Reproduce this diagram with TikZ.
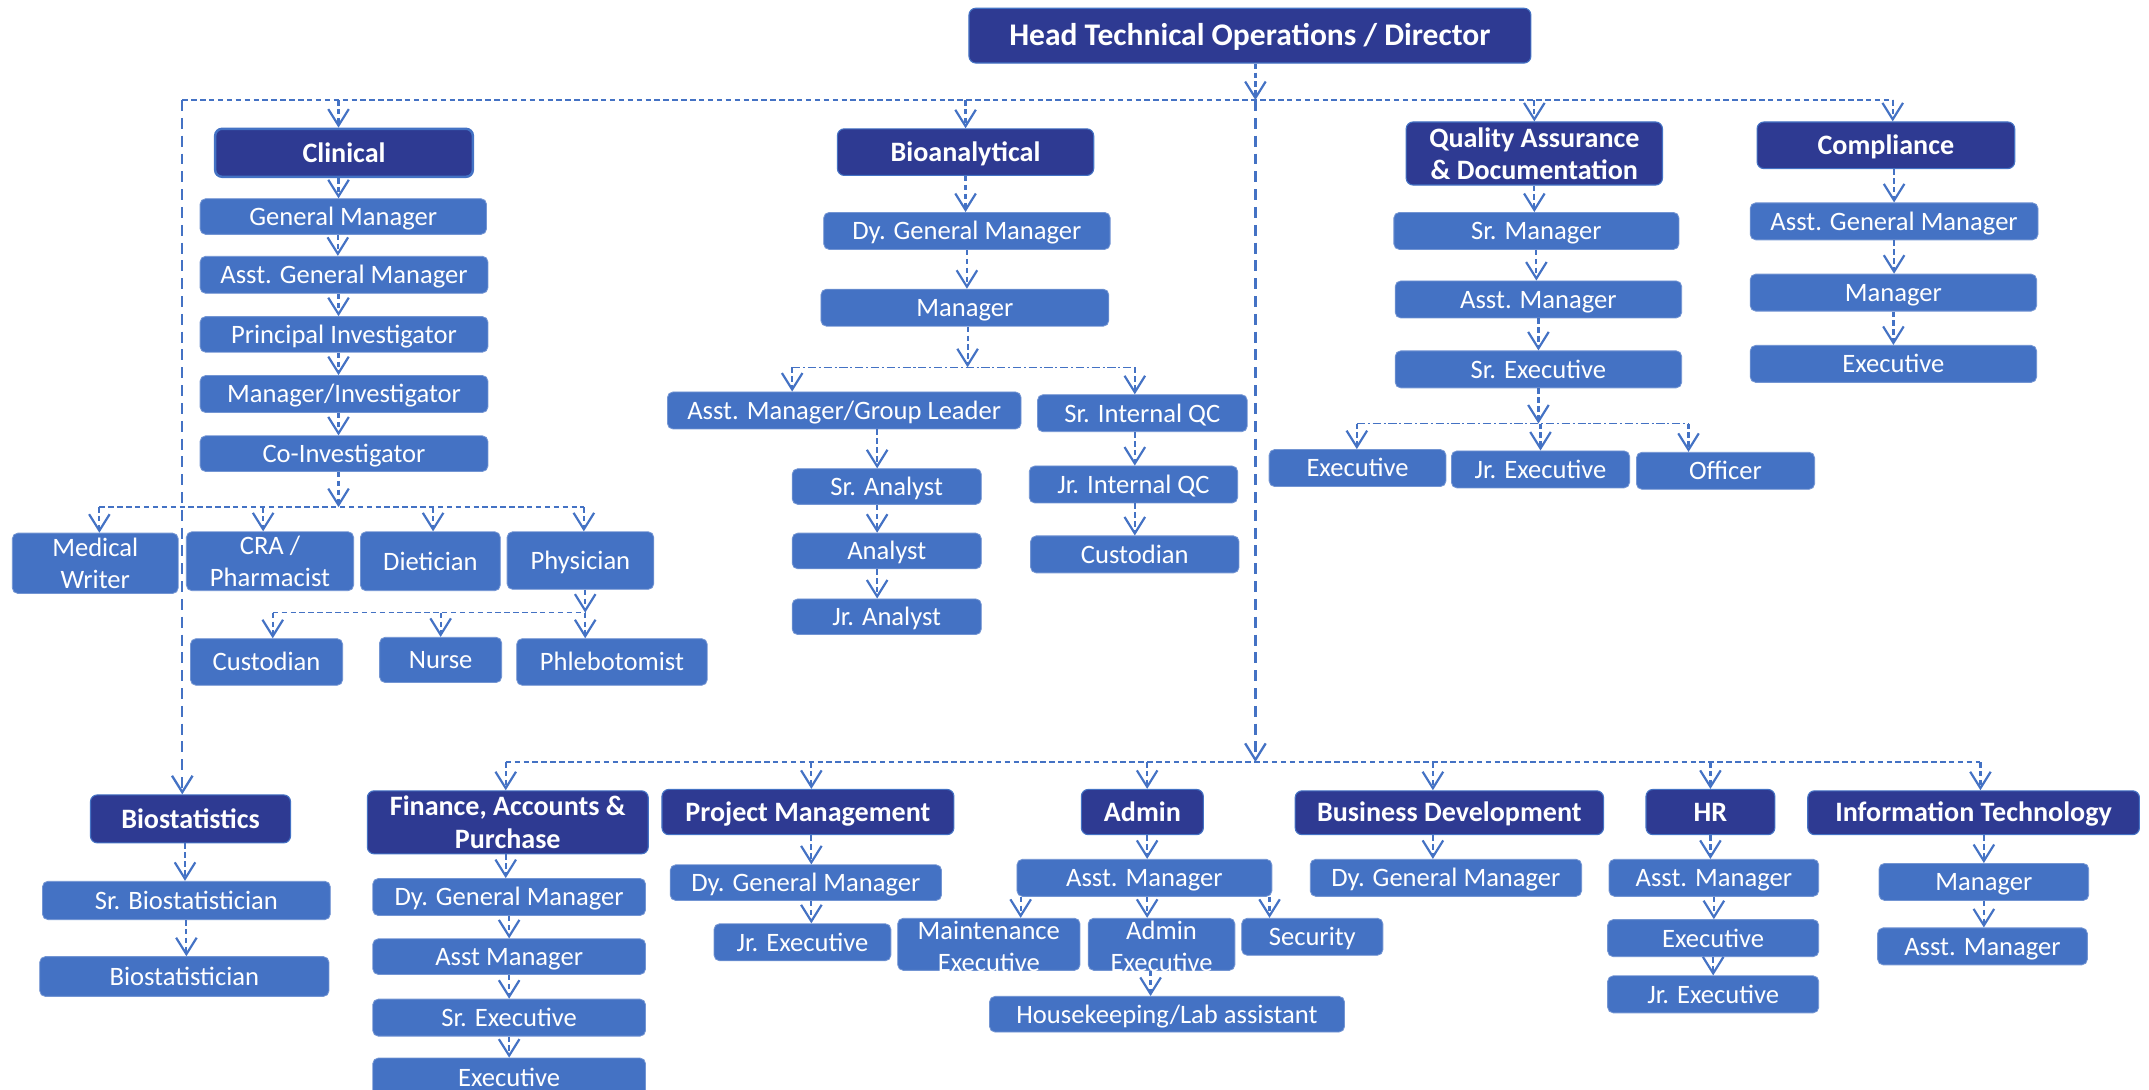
\documentclass[tikz,border=0pt]{standalone}
\usepackage{fontspec}
\setmainfont{Carlito}
\usetikzlibrary{arrows.meta}
\definecolor{dkb}{RGB}{46,58,146}
\definecolor{ltb}{RGB}{68,114,196}
\definecolor{lnb}{RGB}{68,114,196}
\tikzset{
  box/.style={rectangle, rounded corners=4pt, fill=ltb, draw=ltb!75!white, line width=0.6pt, text=white, inner sep=0pt, text height=13pt, text depth=0pt, font=\fontsize{19.4}{23}\selectfont},
  head/.style={rectangle, rounded corners=5pt, fill=dkb, draw=ltb, line width=0.8pt, text=white, inner sep=0pt, text height=13.5pt, text depth=0pt, font=\bfseries\fontsize{20.5}{24}\selectfont},
  txt/.style={text=white, inner sep=0pt, align=center, font=\fontsize{19.4}{23}\selectfont},
  htxt/.style={text=white, inner sep=0pt, align=center, font=\bfseries\fontsize{20.5}{23.5}\selectfont},
  conn/.style={draw=lnb, line width=1.6pt, dash pattern=on 4pt off 2.5pt, -{Straight Barb[length=12pt,width=15pt]}},
  bus/.style={draw=lnb, line width=1.1pt, dash pattern=on 4pt off 2.5pt},
  busdd/.style={draw=lnb, line width=1.1pt, dash pattern=on 6pt off 2pt on 1.5pt off 2pt},
  longc/.style={draw=lnb, line width=1.7pt, dash pattern=on 8pt off 5pt, -{Straight Barb[length=12pt,width=15pt]}}
}
\begin{document}
\begin{tikzpicture}[x=1pt,y=-1pt]
\useasboundingbox (0,0) rectangle (1568,794.6);

% ---------- title ----------
\node[head, minimum width=410pt, minimum height=40pt, text height=15pt, font=\bfseries\fontsize{23}{26}\selectfont] (title) at (912,26) {Head Technical Operations / Director};

% ---------- Clinical ----------
\node[head, minimum width=188pt, minimum height=35pt, line width=1.8pt] (clin) at (251,111.5) {Clinical};
\node[box, minimum width=209pt, minimum height=26pt] (cgm) at (250.5,158) {General Manager};
\node[box, minimum width=210pt, minimum height=27pt] (cagm) at (251,200.5) {Asst. General Manager};
\node[box, minimum width=210pt, minimum height=26pt] (cpi) at (251,244) {Principal Investigator};
\node[box, minimum width=210pt, minimum height=27pt] (cmi) at (251,287.5) {Manager/Investigator};
\node[box, minimum width=210pt, minimum height=26pt] (cci) at (251,331) {Co-Investigator};
\node[box, minimum width=121pt, minimum height=44pt] (mw) at (69.5,411) {};
\node[txt] (mwT) at (mw) {Medical\\Writer};
\node[box, minimum width=122pt, minimum height=43pt] (cra) at (197,409.5) {};
\node[txt] (craT) at (cra) {CRA /\\Pharmacist};
\node[box, minimum width=102pt, minimum height=43pt] (diet) at (314,409.5) {Dietician};
\node[box, minimum width=107pt, minimum height=42pt] (phys) at (423.5,409) {Physician};
\node[box, minimum width=111pt, minimum height=34pt] (ccus) at (194.5,483) {Custodian};
\node[box, minimum width=89pt, minimum height=33pt] (nurse) at (321.5,481.5) {Nurse};
\node[box, minimum width=139pt, minimum height=34pt] (phleb) at (446.5,483) {Phlebotomist};

% ---------- Bioanalytical ----------
\node[head, minimum width=187pt, minimum height=34pt] (bio) at (704.5,111) {Bioanalytical};
\node[box, minimum width=209pt, minimum height=27pt] (bdgm) at (705.5,168.5) {Dy. General Manager};
\node[box, minimum width=210pt, minimum height=27pt] (bman) at (704,224.5) {Manager};
\node[box, minimum width=258pt, minimum height=27pt] (bam) at (616,299.5) {Asst. Manager/Group Leader};
\node[box, minimum width=153pt, minimum height=27pt] (bsiqc) at (833.5,301.5) {Sr. Internal QC};
\node[box, minimum width=138pt, minimum height=26pt] (bsa) at (647,355) {Sr. Analyst};
\node[box, minimum width=138pt, minimum height=26pt] (ban) at (647,402) {Analyst};
\node[box, minimum width=138pt, minimum height=26pt] (bja) at (647,450) {Jr. Analyst};
\node[box, minimum width=152pt, minimum height=27pt] (bjiqc) at (827,353.5) {Jr. Internal QC};
\node[box, minimum width=152pt, minimum height=27pt] (bcus) at (828,404.5) {Custodian};

% ---------- QA ----------
\node[head, minimum width=187pt, minimum height=46pt] (qa) at (1119.5,112) {};
\node[htxt] (qaT) at (qa) {Quality Assurance\\\& Documentation};
\node[box, minimum width=208pt, minimum height=27pt] (qsm) at (1121,168.5) {Sr. Manager};
\node[box, minimum width=209pt, minimum height=27pt] (qam) at (1122.5,218.5) {Asst. Manager};
\node[box, minimum width=209pt, minimum height=27pt] (qse) at (1122.5,269.5) {Sr. Executive};
\node[box, minimum width=129pt, minimum height=27pt] (qex) at (990.5,341.5) {Executive};
\node[box, minimum width=130pt, minimum height=27pt] (qjex) at (1124,342.5) {Jr. Executive};
\node[box, minimum width=130pt, minimum height=27pt] (qoff) at (1259,343.5) {Officer};

% ---------- Compliance ----------
\node[head, minimum width=188pt, minimum height=34pt] (comp) at (1376,106) {Compliance};
\node[box, minimum width=210pt, minimum height=27pt] (kagm) at (1382,161.5) {Asst. General Manager};
\node[box, minimum width=209pt, minimum height=27pt] (kman) at (1381.5,213.5) {Manager};
\node[box, minimum width=209pt, minimum height=27pt] (kex) at (1381.5,265.5) {Executive};

% ---------- Biostatistics ----------
\node[head, minimum width=146pt, minimum height=35pt] (biost) at (139,597.5) {Biostatistics};
\node[box, minimum width=210pt, minimum height=28pt] (sbs) at (136,657) {Sr. Biostatistician};
\node[box, minimum width=211pt, minimum height=29pt] (bs) at (134.5,712.5) {Biostatistician};

% ---------- Finance ----------
\node[head, minimum width=205pt, minimum height=46pt] (fin) at (370.5,600) {};
\node[htxt] (finT) at (fin) {Finance, Accounts \&\\Purchase};
\node[box, minimum width=199pt, minimum height=27pt] (fdgm) at (371.5,654.5) {Dy. General Manager};
\node[box, minimum width=199pt, minimum height=26pt] (fam) at (371.5,698) {Asst Manager};
\node[box, minimum width=199pt, minimum height=27pt] (fse) at (371.5,742.5) {Sr. Executive};
\node[box, minimum width=199pt, minimum height=28pt] (fex) at (371.5,786) {Executive};

% ---------- Project Management ----------
\node[head, minimum width=213pt, minimum height=33pt] (pm) at (589.5,592.5) {Project Management};
\node[box, minimum width=198pt, minimum height=26pt] (pdgm) at (588,644) {Dy. General Manager};
\node[box, minimum width=129pt, minimum height=27pt] (pjex) at (585.5,687.5) {Jr. Executive};

% ---------- Admin ----------
\node[head, minimum width=89pt, minimum height=33pt] (adm) at (833.5,592.5) {Admin};
\node[box, minimum width=186pt, minimum height=27pt] (aam) at (835,640.5) {Asst. Manager};
\node[box, minimum width=133pt, minimum height=38pt] (ame) at (721.5,689) {};
\node[txt] (ameT) at ([yshift=-1.5pt]ame.center) {Maintenance\\Executive};
\node[box, minimum width=107pt, minimum height=38pt] (aae) at (847.5,689) {};
\node[txt] (aaeT) at ([yshift=-1.5pt]aae.center) {Admin\\Executive};
\node[box, minimum width=103pt, minimum height=27pt] (asec) at (957.5,683.5) {Security};
\node[box, minimum width=259pt, minimum height=26pt] (ahk) at (851.5,740) {Housekeeping/Lab assistant};

% ---------- Business Development ----------
\node[head, minimum width=225pt, minimum height=32pt] (bd) at (1057.5,593) {Business Development};
\node[box, minimum width=198pt, minimum height=27pt] (bddgm) at (1055,640.5) {Dy. General Manager};

% ---------- HR ----------
\node[head, minimum width=94pt, minimum height=33pt] (hr) at (1248,592.5) {HR};
\node[box, minimum width=153pt, minimum height=27pt] (ham) at (1250.5,640.5) {Asst. Manager};
\node[box, minimum width=154pt, minimum height=27pt] (hex) at (1250,684.5) {Executive};
\node[box, minimum width=154pt, minimum height=27pt] (hjex) at (1250,725.5) {Jr. Executive};

% ---------- IT ----------
\node[head, minimum width=242pt, minimum height=32pt] (it) at (1440,593) {Information Technology};
\node[box, minimum width=153pt, minimum height=27pt] (iman) at (1447.5,643.5) {Manager};
\node[box, minimum width=153pt, minimum height=27pt] (iam) at (1446.5,690.5) {Asst. Manager};

% ---------- bus coordinates ----------
\coordinate (tb) at (916,73);
\coordinate (tbL) at (133,73);
\coordinate (tbR) at (1381,73);
\coordinate (lb) at (916,556);
\coordinate (lbL) at (369,556);
\coordinate (lbR) at (1445,556);
\coordinate (cb) at (251,370);
\coordinate (pb) at (427,447);
\coordinate (bbL) at (578,268);
\coordinate (bbR) at (828,268);
\coordinate (qbL) at (990,309);
\coordinate (qbR) at (1232,309);

% ---------- top level ----------
\draw[conn] (title.south -| tb) -- (tb);
\draw[bus] (tbL) -- (tbR);
\draw[longc] (tbL) -- (tbL |- biost.north);
\draw[longc] (tb) -- (lb);
\draw[conn] ([xshift=-4pt]clin.north |- tb) -- ([xshift=-4pt]clin.north);
\draw[conn] (bio.north |- tb) -- (bio.north);
\draw[conn] (qa.north |- tb) -- (qa.north);
\draw[conn] (tbR) -- (tbR |- comp.north);

% ---------- Clinical ----------
\draw[conn] ([xshift=-4pt]clin.south) -- ([xshift=-4pt]clin.south |- cgm.north);
\draw[conn] ([xshift=-4pt]cgm.south) -- ([xshift=-4pt]cgm.south |- cagm.north);
\draw[conn] ([xshift=-4pt]cagm.south) -- ([xshift=-4pt]cagm.south |- cpi.north);
\draw[conn] ([xshift=-4pt]cpi.south) -- ([xshift=-4pt]cpi.south |- cmi.north);
\draw[conn] ([xshift=-4pt]cmi.south) -- ([xshift=-4pt]cmi.south |- cci.north);
\draw[conn] ([xshift=-4pt]cci.south) -- ([xshift=-4pt]cci.south |- cb);
\draw[bus] ([xshift=3pt]mw.north |- cb) -- ([xshift=2.5pt]phys.north |- cb);
\draw[conn] ([xshift=3pt]mw.north |- cb) -- ([xshift=3pt]mw.north);
\draw[conn] ([xshift=-5pt]cra.north |- cb) -- ([xshift=-5pt]cra.north);
\draw[conn] ([xshift=2pt]diet.north |- cb) -- ([xshift=2pt]diet.north);
\draw[conn] ([xshift=2.5pt]phys.north |- cb) -- ([xshift=2.5pt]phys.north);
\draw[conn] (phys.south -| pb) -- (pb);
\draw[bus] ([xshift=4.5pt]ccus.north |- pb) -- (pb);
\draw[conn] ([xshift=4.5pt]ccus.north |- pb) -- ([xshift=4.5pt]ccus.north);
\draw[conn] (nurse.north |- pb) -- (nurse.north);
\draw[conn] (pb) -- (pb |- phleb.north);

% ---------- Bioanalytical ----------
\draw[conn] (bio.south) -- (bio.south |- bdgm.north);
\draw[conn] (bdgm.south) -- (bdgm.south |- bman.north);
\draw[conn] ([xshift=2pt]bman.south) -- ([xshift=2pt]bman.south |- bbL);
\draw[busdd] (bbL) -- (bbR);
\draw[conn] (bbL) -- (bbL |- bam.north);
\draw[conn] (bbR) -- (bbR |- bsiqc.north);
\draw[conn] ([xshift=-7pt]bsa.north |- bam.south) -- ([xshift=-7pt]bsa.north);
\draw[conn] ([xshift=-7pt]bsa.south) -- ([xshift=-7pt]bsa.south |- ban.north);
\draw[conn] ([xshift=-7pt]ban.south) -- ([xshift=-7pt]ban.south |- bja.north);
\draw[conn] (bsiqc.south -| bbR) -- (bbR |- bjiqc.north);
\draw[conn] (bjiqc.south -| bbR) -- (bbR |- bcus.north);

% ---------- QA ----------
\draw[conn] (qa.south) -- (qa.south |- qsm.north);
\draw[conn] (qsm.south) -- (qsm.south |- qam.north);
\draw[conn] (qam.south) -- (qam.south |- qse.north);
\draw[conn] (qse.south) -- (qse.south |- qbL);
\draw[busdd] (qbL) -- (qbR);
\draw[conn] (qbL) -- (qbL |- qex.north);
\draw[conn] (qjex.north |- qbL) -- (qjex.north);
\draw[conn] (qbR) -- (qbR |- qoff.north);

% ---------- Compliance ----------
\draw[conn] (kagm.north |- comp.south) -- (kagm.north);
\draw[conn] (kagm.south) -- (kagm.south |- kman.north);
\draw[conn] (kman.south) -- (kman.south |- kex.north);

% ---------- Biostatistics ----------
\draw[conn] ([xshift=-4pt]biost.south) -- ([xshift=-4pt]biost.south |- sbs.north);
\draw[conn] (sbs.south) -- (sbs.south |- bs.north);

% ---------- lower bus ----------
\draw[bus] (lbL) -- (lbR);
\draw[conn] (lbL) -- (lbL |- fin.north);
\draw[conn] ([xshift=2.5pt]pm.north |- lb) -- ([xshift=2.5pt]pm.north);
\draw[conn] ([xshift=3.5pt]adm.north |- lb) -- ([xshift=3.5pt]adm.north);
\draw[conn] ([xshift=-12pt]bd.north |- lb) -- ([xshift=-12pt]bd.north);
\draw[conn] (hr.north |- lb) -- (hr.north);
\draw[conn] (lbR) -- (lbR |- it.north);

% ---------- Finance ----------
\draw[conn] ([xshift=-1.5pt]fin.south) -- ([xshift=-1.5pt]fin.south |- fdgm.north);
\draw[conn] (fdgm.south) -- (fdgm.south |- fam.north);
\draw[conn] (fam.south) -- (fam.south |- fse.north);
\draw[conn] (fse.south) -- (fse.south |- fex.north);

% ---------- PM ----------
\draw[conn] ([xshift=2.5pt]pm.south) -- ([xshift=2.5pt]pm.south |- pdgm.north);
\draw[conn] ([xshift=4pt]pdgm.south) -- ([xshift=4pt]pdgm.south |- pjex.north);

% ---------- Admin ----------
\draw[conn] ([xshift=3.5pt]adm.south) -- ([xshift=3.5pt]adm.south |- aam.north);
\draw[conn] ([xshift=3pt]aam.south west) -- ([xshift=3pt]aam.south west |- ame.north);
\draw[conn] ([xshift=2pt]aam.south) -- ([xshift=2pt]aam.south |- aae.north);
\draw[conn] ([xshift=-2pt]aam.south east) -- ([xshift=-2pt]aam.south east |- asec.north);
\draw[conn] ([xshift=-8pt]aae.south) -- ([xshift=-8pt]aae.south |- ahk.north);

% ---------- BD ----------
\draw[conn] ([xshift=-12pt]bd.south) -- ([xshift=-12pt]bd.south |- bddgm.north);

% ---------- HR ----------
\draw[conn] (hr.south) -- (hr.south |- ham.north);
\draw[conn] (ham.south) -- (ham.south |- hex.north);
\draw[conn] (hex.south) -- (hex.south |- hjex.north);

% ---------- IT ----------
\draw[conn] (iman.north |- it.south) -- (iman.north);
\draw[conn] (iman.south) -- (iman.south |- iam.north);
\end{tikzpicture}
\end{document}
